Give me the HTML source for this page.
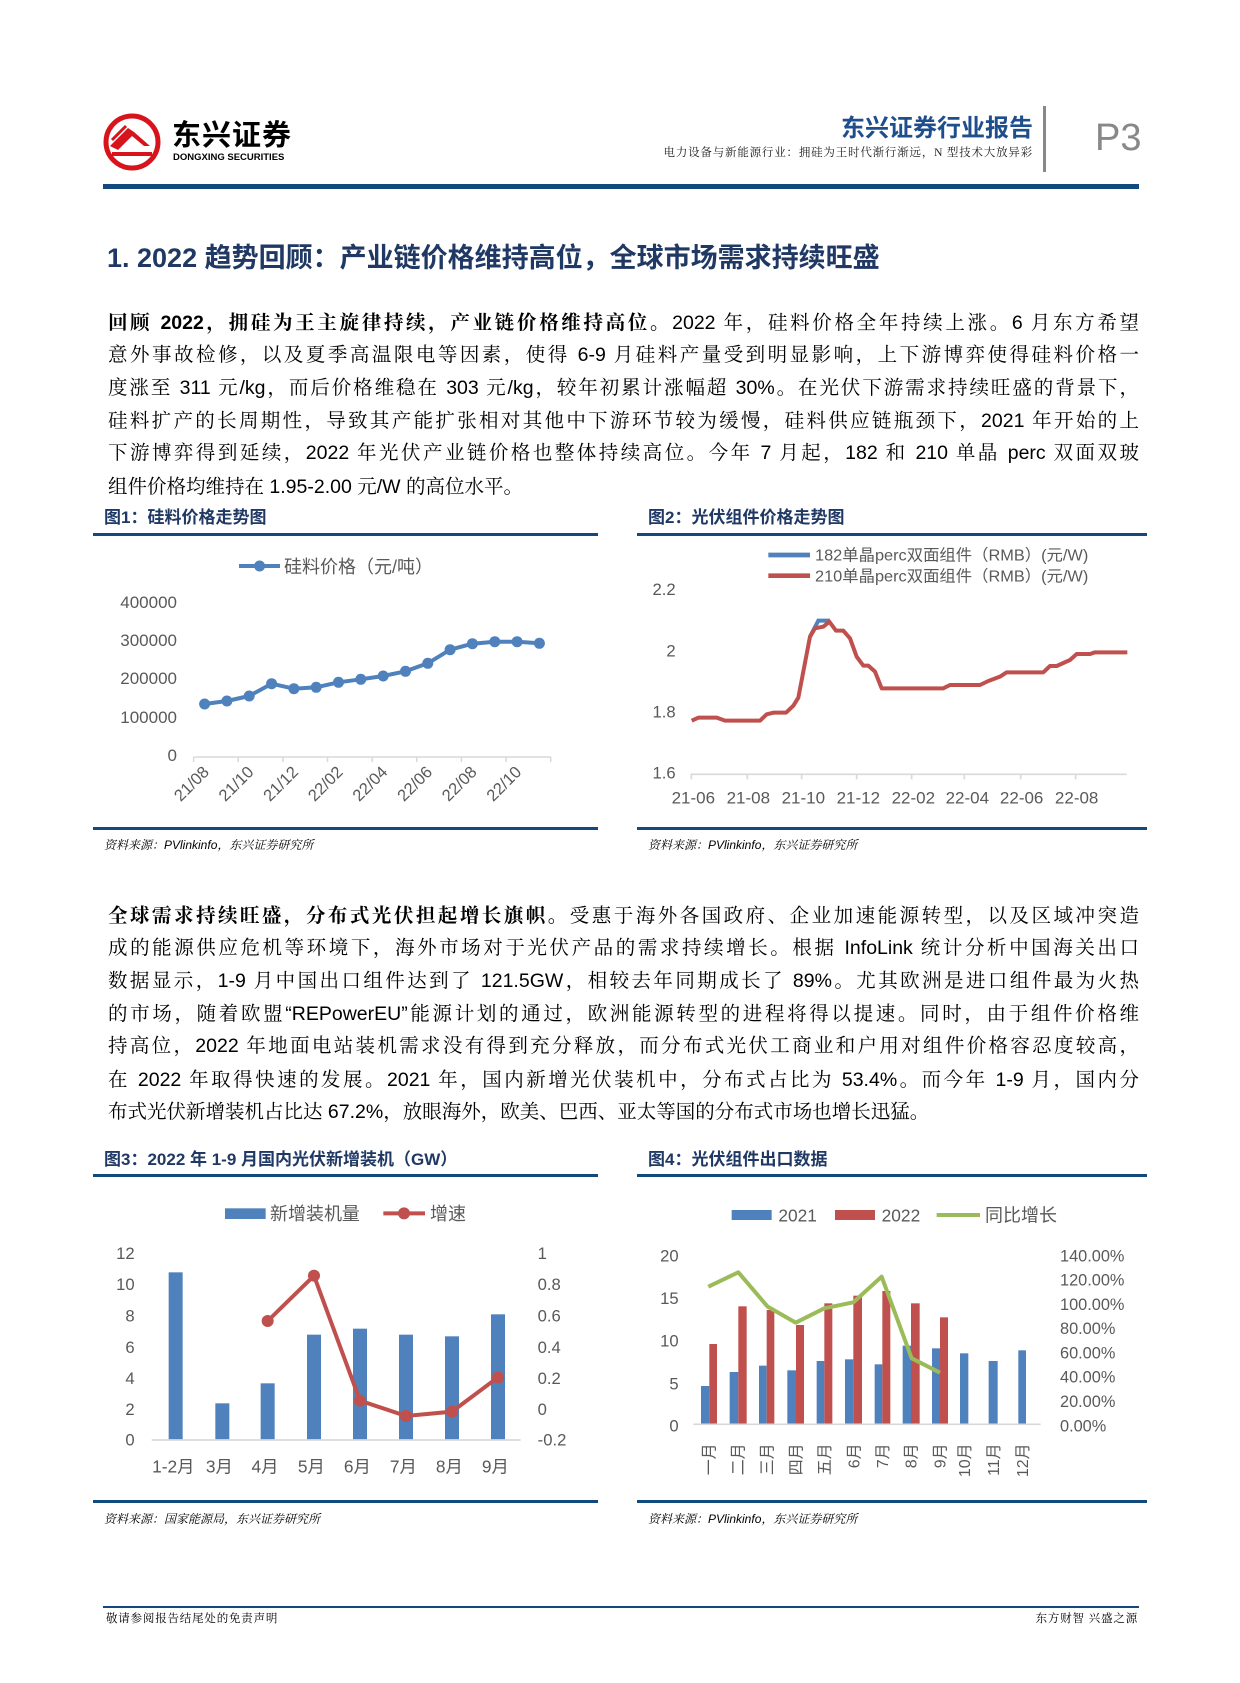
<!DOCTYPE html>
<html><head><meta charset="utf-8">
<style>
html,body{margin:0;padding:0;background:#fff;}
body{width:1240px;height:1683px;position:relative;overflow:hidden;font-family:"Liberation Sans","Noto Serif CJK SC",serif;color:#000;}
.a{position:absolute;white-space:nowrap;}
.ln{position:absolute;left:108px;width:1031px;height:32px;line-height:32px;font-size:19.5px;text-align:justify;text-align-last:justify;white-space:nowrap;}
.ln.last{text-align-last:left;}
.ln b{font-weight:bold;}
.ft{position:absolute;font-family:"Liberation Sans","Noto Sans CJK SC",sans-serif;font-weight:bold;font-size:17px;color:#1f3864;line-height:20px;}
.rule{position:absolute;height:3px;background:#124a7d;}
.src{position:absolute;font-size:12px;font-style:italic;color:#000;font-family:"Liberation Sans","Noto Serif CJK SC",serif;}
svg text{font-family:"Liberation Sans","Noto Sans CJK SC",sans-serif;}
</style></head><body>

<!-- header -->
<svg class="a" style="left:0;top:0" width="1240" height="200">
  <circle cx="132" cy="142" r="26" fill="none" stroke="#d7141c" stroke-width="5"/>
  <path d="M110 146 L128 128 L134 132 L150 146 L144 146 L132 136 L118 150 Z" fill="#d7141c"/>
  <path d="M112 152 L152 152 L152 156 L112 156 Z" fill="#d7141c"/>
  <path d="M112 140 L126 126" stroke="#d7141c" stroke-width="3"/>
</svg>
<div class="a" style="left:172px;top:119px;font-size:29px;font-weight:bold;font-family:'Liberation Sans','Noto Sans CJK SC',sans-serif;letter-spacing:1px;line-height:34px;">东兴证券</div>
<div class="a" style="left:173px;top:152px;font-size:9.5px;font-weight:bold;font-family:'Liberation Sans',sans-serif;line-height:11px;">DONGXING SECURITIES</div>
<div class="a" style="right:207px;top:115px;font-size:24px;font-weight:bold;color:#1f4e8c;font-family:'Liberation Sans','Noto Sans CJK SC',sans-serif;line-height:28px;">东兴证券行业报告</div>
<div class="a" style="right:207px;top:146px;font-size:11.5px;color:#222;line-height:14px;letter-spacing:0.8px;font-family:'Liberation Serif','Noto Serif CJK SC',serif;">电力设备与新能源行业：拥硅为王时代渐行渐远，N 型技术大放异彩</div>
<div class="a" style="left:1043px;top:106px;width:3px;height:66px;background:#888;"></div>
<div class="a" style="left:1095px;top:118px;font-size:38px;color:#888;line-height:40px;font-family:'Liberation Sans',sans-serif;">P3</div>
<div class="a" style="left:103px;top:184px;width:1036px;height:5px;background:#124a7d;"></div>

<div class="a" style="left:107px;top:242px;font-size:27px;font-weight:bold;color:#1f3864;line-height:32px;font-family:'Liberation Sans','Noto Sans CJK SC',sans-serif;">1. 2022 趋势回顾：产业链价格维持高位，全球市场需求持续旺盛</div>

<!-- para 1 -->
<div class="ln" style="top:307px"><b>回顾 2022，拥硅为王主旋律持续，产业链价格维持高位。</b>2022 年，硅料价格全年持续上涨。6 月东方希望</div>
<div class="ln" style="top:339px">意外事故检修，以及夏季高温限电等因素，使得 6-9 月硅料产量受到明显影响，上下游博弈使得硅料价格一</div>
<div class="ln" style="top:372px">度涨至 311 元/kg，而后价格维稳在 303 元/kg，较年初累计涨幅超 30%。在光伏下游需求持续旺盛的背景下，</div>
<div class="ln" style="top:405px">硅料扩产的长周期性，导致其产能扩张相对其他中下游环节较为缓慢，硅料供应链瓶颈下，2021 年开始的上</div>
<div class="ln" style="top:437px">下游博弈得到延续，2022 年光伏产业链价格也整体持续高位。今年 7 月起，182 和 210 单晶 perc 双面双玻</div>
<div class="ln last" style="top:471px">组件价格均维持在 1.95-2.00 元/W 的高位水平。</div>

<!-- fig titles 1/2 -->
<div class="ft" style="left:104px;top:508px">图1：硅料价格走势图</div>
<div class="ft" style="left:648px;top:508px">图2：光伏组件价格走势图</div>
<div class="rule" style="left:93px;top:533px;width:505px"></div>
<div class="rule" style="left:637px;top:533px;width:510px"></div>
<div class="rule" style="left:93px;top:827px;width:505px"></div>
<div class="rule" style="left:637px;top:827px;width:510px"></div>
<div class="src" style="left:104px;top:836px">资料来源：PVlinkinfo，东兴证券研究所</div>
<div class="src" style="left:648px;top:836px">资料来源：PVlinkinfo，东兴证券研究所</div>

<!-- chart 1 -->
<svg class="a" style="left:0;top:0" width="640" height="840">
  <g font-size="17" fill="#595959" text-anchor="end">
    <text x="177" y="608">400000</text>
    <text x="177" y="646">300000</text>
    <text x="177" y="684">200000</text>
    <text x="177" y="723">100000</text>
    <text x="177" y="761">0</text>
  </g>
  <line x1="193.6" y1="757" x2="550.7" y2="757" stroke="#d9d9d9" stroke-width="1.5"/>
  <g stroke="#d9d9d9" stroke-width="1.5">
    <line x1="193.6" y1="757" x2="193.6" y2="762"/><line x1="238.2" y1="757" x2="238.2" y2="762"/>
    <line x1="282.9" y1="757" x2="282.9" y2="762"/><line x1="327.5" y1="757" x2="327.5" y2="762"/>
    <line x1="372.2" y1="757" x2="372.2" y2="762"/><line x1="416.8" y1="757" x2="416.8" y2="762"/>
    <line x1="461.4" y1="757" x2="461.4" y2="762"/><line x1="506.1" y1="757" x2="506.1" y2="762"/>
    <line x1="550.7" y1="757" x2="550.7" y2="762"/>
  </g>
  <g font-size="16.5" fill="#595959" text-anchor="end">
    <text transform="translate(210,773) rotate(-45)">21/08</text>
    <text transform="translate(254.6,773) rotate(-45)">21/10</text>
    <text transform="translate(299.2,773) rotate(-45)">21/12</text>
    <text transform="translate(343.9,773) rotate(-45)">22/02</text>
    <text transform="translate(388.5,773) rotate(-45)">22/04</text>
    <text transform="translate(433.2,773) rotate(-45)">22/06</text>
    <text transform="translate(477.8,773) rotate(-45)">22/08</text>
    <text transform="translate(522.4,773) rotate(-45)">22/10</text>
  </g>
  <polyline fill="none" stroke="#4f81bd" stroke-width="4" stroke-linejoin="round"
    points="204.6,704 226.9,701 249.2,696 271.6,683.7 293.9,688.7 316.2,687.3 338.5,682.3 360.8,679.3 383.2,676 405.5,671.3 427.8,663.3 450.1,649.7 472.4,643.7 494.8,641.7 517.1,641.7 539.4,643.3"/>
  <g fill="#4f81bd">
    <circle cx="204.6" cy="704" r="5.5"/><circle cx="226.9" cy="701" r="5.5"/><circle cx="249.2" cy="696" r="5.5"/><circle cx="271.6" cy="683.7" r="5.5"/>
    <circle cx="293.9" cy="688.7" r="5.5"/><circle cx="316.2" cy="687.3" r="5.5"/><circle cx="338.5" cy="682.3" r="5.5"/><circle cx="360.8" cy="679.3" r="5.5"/>
    <circle cx="383.2" cy="676" r="5.5"/><circle cx="405.5" cy="671.3" r="5.5"/><circle cx="427.8" cy="663.3" r="5.5"/><circle cx="450.1" cy="649.7" r="5.5"/>
    <circle cx="472.4" cy="643.7" r="5.5"/><circle cx="494.8" cy="641.7" r="5.5"/><circle cx="517.1" cy="641.7" r="5.5"/><circle cx="539.4" cy="643.3" r="5.5"/>
  </g>
  <line x1="239" y1="566" x2="280" y2="566" stroke="#4f81bd" stroke-width="4"/>
  <circle cx="259.6" cy="566" r="5.5" fill="#4f81bd"/>
  <text x="284" y="573" font-size="18" fill="#595959">硅料价格（元/吨）</text>
</svg>

<!-- chart 2 -->
<svg class="a" style="left:630px;top:500px" width="520" height="330">
 <g transform="scale(0.33333)">
  <g font-size="50" fill="#595959" text-anchor="end">
    <text x="137" y="285">2.2</text><text x="137" y="469">2</text><text x="137" y="652">1.8</text><text x="137" y="835">1.6</text>
  </g>
  <line x1="182" y1="823" x2="1490" y2="823" stroke="#d9d9d9" stroke-width="5"/>
  <g stroke="#d9d9d9" stroke-width="5">
    <line x1="184" y1="823" x2="184" y2="838"/><line x1="352" y1="823" x2="352" y2="838"/><line x1="515" y1="823" x2="515" y2="838"/>
    <line x1="680" y1="823" x2="680" y2="838"/><line x1="845" y1="823" x2="845" y2="838"/><line x1="1003" y1="823" x2="1003" y2="838"/>
    <line x1="1172" y1="823" x2="1172" y2="838"/><line x1="1337" y1="823" x2="1337" y2="838"/>
  </g>
  <g font-size="51" fill="#595959" text-anchor="middle">
    <text x="190" y="910">21-06</text><text x="355" y="910">21-08</text><text x="520" y="910">21-10</text><text x="685" y="910">21-12</text>
    <text x="850" y="910">22-02</text><text x="1012" y="910">22-04</text><text x="1175" y="910">22-06</text><text x="1340" y="910">22-08</text>
  </g>
  <polyline fill="none" stroke="#4f81bd" stroke-width="12" points="540,410 565,362 600,362"/>
  <polyline fill="none" stroke="#c0504d" stroke-width="12" stroke-linejoin="round"
   points="185,662 205,653 260,653 285,662 390,662 410,643 430,638 468,638 490,617 505,593 540,410 555,385 580,380 598,365 618,392 640,392 660,415 680,470 700,497 715,497 735,515 755,565 940,565 960,555 1050,555 1075,543 1110,530 1130,517 1240,517 1260,498 1280,498 1320,480 1340,462 1380,462 1395,457 1492,457"/>
  <line x1="415" y1="165" x2="540" y2="165" stroke="#4f81bd" stroke-width="14"/>
  <line x1="415" y1="227" x2="540" y2="227" stroke="#c0504d" stroke-width="14"/>
  <g font-size="48" fill="#595959">
    <text x="555" y="182" textLength="820" lengthAdjust="spacingAndGlyphs">182单晶perc双面组件（RMB）(元/W)</text>
    <text x="555" y="244" textLength="820" lengthAdjust="spacingAndGlyphs">210单晶perc双面组件（RMB）(元/W)</text>
  </g>
 </g>
</svg>

<!-- para 2 -->
<div class="ln" style="top:900px"><b>全球需求持续旺盛，分布式光伏担起增长旗帜。</b>受惠于海外各国政府、企业加速能源转型，以及区域冲突造</div>
<div class="ln" style="top:932px">成的能源供应危机等环境下，海外市场对于光伏产品的需求持续增长。根据 InfoLink 统计分析中国海关出口</div>
<div class="ln" style="top:965px">数据显示，1-9 月中国出口组件达到了 121.5GW，相较去年同期成长了 89%。尤其欧洲是进口组件最为火热</div>
<div class="ln" style="top:998px">的市场，随着欧盟“REPowerEU”能源计划的通过，欧洲能源转型的进程将得以提速。同时，由于组件价格维</div>
<div class="ln" style="top:1030px">持高位，2022 年地面电站装机需求没有得到充分释放，而分布式光伏工商业和户用对组件价格容忍度较高，</div>
<div class="ln" style="top:1064px">在 2022 年取得快速的发展。2021 年，国内新增光伏装机中，分布式占比为 53.4%。而今年 1-9 月，国内分</div>
<div class="ln last" style="top:1096px">布式光伏新增装机占比达 67.2%，放眼海外，欧美、巴西、亚太等国的分布式市场也增长迅猛。</div>

<div class="ft" style="left:104px;top:1150px">图3：2022 年 1-9 月国内光伏新增装机（GW）</div>
<div class="ft" style="left:648px;top:1150px">图4：光伏组件出口数据</div>
<div class="rule" style="left:93px;top:1174px;width:505px"></div>
<div class="rule" style="left:637px;top:1174px;width:510px"></div>
<div class="rule" style="left:93px;top:1500px;width:505px"></div>
<div class="rule" style="left:637px;top:1500px;width:510px"></div>
<div class="src" style="left:104px;top:1510px">资料来源：国家能源局，东兴证券研究所</div>
<div class="src" style="left:648px;top:1510px">资料来源：PVlinkinfo，东兴证券研究所</div>

<!-- chart 3 -->
<svg class="a" style="left:90px;top:1140px" width="520" height="360">
 <g transform="scale(0.33333)">
  <g font-size="50" fill="#595959" text-anchor="end">
    <text x="134" y="357">12</text><text x="134" y="450">10</text><text x="134" y="545">8</text><text x="134" y="639">6</text>
    <text x="134" y="732">4</text><text x="134" y="825">2</text><text x="134" y="917">0</text>
  </g>
  <g font-size="50" fill="#595959">
    <text x="1343" y="357">1</text><text x="1343" y="450">0.8</text><text x="1343" y="545">0.6</text><text x="1343" y="639">0.4</text>
    <text x="1343" y="732">0.2</text><text x="1343" y="825">0</text><text x="1343" y="917">-0.2</text>
  </g>
  <g fill="#4f81bd">
    <rect x="236" y="397" width="42" height="503"/><rect x="376" y="790" width="42" height="110"/>
    <rect x="512" y="730" width="42" height="170"/><rect x="651" y="584" width="42" height="316"/>
    <rect x="789" y="566" width="42" height="334"/><rect x="927" y="584" width="42" height="316"/>
    <rect x="1065" y="589" width="42" height="311"/><rect x="1203" y="523" width="42" height="377"/>
  </g>
  <line x1="185" y1="900" x2="1292" y2="900" stroke="#d9d9d9" stroke-width="5"/>
  <polyline fill="none" stroke="#c0504d" stroke-width="12" points="533,543 672,407 810,782 948,828 1086,815 1224,712"/>
  <g fill="#c0504d">
    <circle cx="533" cy="543" r="18"/><circle cx="672" cy="407" r="18"/><circle cx="810" cy="782" r="18"/>
    <circle cx="948" cy="828" r="18"/><circle cx="1086" cy="815" r="18"/><circle cx="1224" cy="712" r="18"/>
  </g>
  <g font-size="52" fill="#595959" text-anchor="middle">
    <text x="250" y="997">1-2月</text><text x="388" y="997">3月</text><text x="525" y="997">4月</text><text x="664" y="997">5月</text>
    <text x="802" y="997">6月</text><text x="940" y="997">7月</text><text x="1078" y="997">8月</text><text x="1216" y="997">9月</text>
  </g>
  <rect x="405" y="205" width="122" height="32" fill="#4f81bd"/>
  <text x="540" y="240" font-size="54" fill="#595959">新增装机量</text>
  <line x1="880" y1="220" x2="1005" y2="220" stroke="#c0504d" stroke-width="12"/>
  <circle cx="942" cy="220" r="18" fill="#c0504d"/>
  <text x="1020" y="240" font-size="54" fill="#595959">增速</text>
 </g>
</svg>

<!-- chart 4 -->
<svg class="a" style="left:630px;top:1140px" width="520" height="360">
 <g transform="scale(0.33333)">
  <g font-size="50" fill="#595959" text-anchor="end">
    <text x="146" y="364">20</text><text x="146" y="492">15</text><text x="146" y="620">10</text><text x="146" y="749">5</text><text x="146" y="875">0</text>
  </g>
  <g font-size="49" fill="#595959">
    <text x="1290" y="364">140.00%</text><text x="1290" y="437">120.00%</text><text x="1290" y="510">100.00%</text><text x="1290" y="582">80.00%</text>
    <text x="1290" y="655">60.00%</text><text x="1290" y="728">40.00%</text><text x="1290" y="801">20.00%</text><text x="1290" y="874">0.00%</text>
  </g>
  <g fill="#4f81bd">
    <rect x="213" y="738" width="25" height="115"/><rect x="299" y="696" width="26" height="157"/><rect x="387" y="677" width="23" height="176"/>
    <rect x="472" y="691" width="26" height="162"/><rect x="560" y="663" width="23" height="190"/><rect x="645" y="658" width="25" height="195"/>
    <rect x="734" y="673" width="23" height="180"/><rect x="818" y="617" width="25" height="236"/><rect x="906" y="625" width="24" height="228"/>
    <rect x="990" y="640" width="25" height="213"/><rect x="1076" y="663" width="27" height="190"/><rect x="1165" y="631" width="23" height="222"/>
  </g>
  <g fill="#c0504d">
    <rect x="238" y="612" width="23" height="241"/><rect x="325" y="499" width="25" height="354"/><rect x="410" y="510" width="23" height="343"/>
    <rect x="498" y="555" width="24" height="298"/><rect x="583" y="490" width="24" height="363"/><rect x="670" y="467" width="26" height="386"/>
    <rect x="757" y="453" width="24" height="400"/><rect x="843" y="490" width="26" height="363"/><rect x="930" y="532" width="24" height="321"/>
  </g>
  <line x1="190" y1="853" x2="1232" y2="853" stroke="#d9d9d9" stroke-width="5"/>
  <polyline fill="none" stroke="#9bbb59" stroke-width="12" stroke-linejoin="round" points="235,440 325,397 413,500 497,548 583,505 670,487 755,410 845,655 930,698"/>
  <g font-size="48" fill="#595959" text-anchor="end">
    <text transform="translate(254,910) rotate(-90)">一月</text>
    <text transform="translate(341,910) rotate(-90)">二月</text>
    <text transform="translate(427,910) rotate(-90)">三月</text>
    <text transform="translate(514,910) rotate(-90)">四月</text>
    <text transform="translate(600,910) rotate(-90)">五月</text>
    <text transform="translate(688,910) rotate(-90)">6月</text>
    <text transform="translate(774,910) rotate(-90)">7月</text>
    <text transform="translate(860,910) rotate(-90)">8月</text>
    <text transform="translate(947,910) rotate(-90)">9月</text>
    <text transform="translate(1020,910) rotate(-90)">10月</text>
    <text transform="translate(1107,910) rotate(-90)">11月</text>
    <text transform="translate(1194,910) rotate(-90)">12月</text>
  </g>
  <rect x="305" y="210" width="120" height="30" fill="#4f81bd"/>
  <text x="445" y="244" font-size="52" fill="#595959">2021</text>
  <rect x="615" y="210" width="120" height="30" fill="#c0504d"/>
  <text x="755" y="244" font-size="52" fill="#595959">2022</text>
  <line x1="920" y1="225" x2="1050" y2="225" stroke="#9bbb59" stroke-width="12"/>
  <text x="1065" y="244" font-size="54" fill="#595959">同比增长</text>
 </g>
</svg>

<!-- footer -->
<div class="a" style="left:103px;top:1606px;width:1036px;height:2px;background:#124a7d;"></div>
<div class="a" style="left:106px;top:1612px;font-size:11.5px;line-height:14px;letter-spacing:0.8px;">敬请参阅报告结尾处的免责声明</div>
<div class="a" style="right:102px;top:1612px;font-size:11.5px;line-height:14px;letter-spacing:0.8px;">东方财智 兴盛之源</div>
</body></html>
